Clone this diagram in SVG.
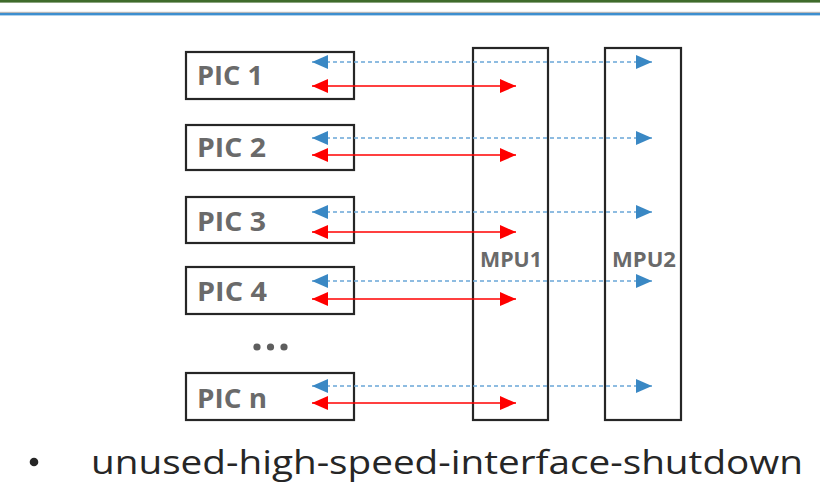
<svg xmlns="http://www.w3.org/2000/svg" width="820" height="491" viewBox="0 0 820 491">
  <style>
    .box { fill: #ffffff; stroke: #262626; stroke-width: 2.2; }
    .pic { font-family: "Open Sans", "Noto Sans", "Liberation Sans", sans-serif; font-weight: bold; font-size: 27px; fill: #6a6a6a; }
    .mpu { font-family: "Open Sans", "Noto Sans", "Liberation Sans", sans-serif; font-weight: bold; font-size: 20.5px; fill: #6a6a6a; }
    .dash { stroke: #6aa6d8; stroke-width: 1.5; stroke-dasharray: 4 3; fill: none; }
    .red { stroke: #ff0000; stroke-width: 1.6; fill: none; }
    .bullet { font-family: "Open Sans", "Noto Sans", "Liberation Sans", sans-serif; font-size: 32px; fill: #262626; }
  </style>
  <defs>
    <marker id="blueHead" markerUnits="userSpaceOnUse" markerWidth="16" markerHeight="14" refX="16" refY="7" orient="auto-start-reverse" viewBox="0 0 16 14">
      <path d="M0,0 L16,7 L0,14 Z" fill="#3a88c4"/>
    </marker>
    <marker id="redHead" markerUnits="userSpaceOnUse" markerWidth="16" markerHeight="14" refX="16" refY="7" orient="auto-start-reverse" viewBox="0 0 16 14">
      <path d="M0,0 L16,7 L0,14 Z" fill="#ff0000"/>
    </marker>
  </defs>

  <!-- header rules -->
  <rect x="0" y="0" width="820" height="2.6" fill="#3f6b2b"/>
  <rect x="0" y="11.8" width="820" height="1.2" fill="#b8b8b8"/>
  <rect x="0" y="13" width="820" height="2.4" fill="#3d8fcf"/>

  <!-- MPU boards -->
  <g id="mpu1">
    <rect class="box" x="473" y="48" width="75" height="372"/>
    <text class="mpu" x="480" y="267" textLength="62" lengthAdjust="spacingAndGlyphs">MPU1</text>
  </g>
  <g id="mpu2">
    <rect class="box" x="605" y="48" width="76" height="372"/>
    <text class="mpu" x="612" y="267" textLength="64" lengthAdjust="spacingAndGlyphs">MPU2</text>
  </g>

  <!-- PIC cards -->
  <g id="pic1">
    <rect class="box" x="186" y="52" width="168" height="47"/>
    <text class="pic" x="197" y="85" textLength="66" lengthAdjust="spacingAndGlyphs">PIC 1</text>
  </g>
  <g id="pic2">
    <rect class="box" x="186" y="125" width="168" height="45"/>
    <text class="pic" x="197" y="157" textLength="69" lengthAdjust="spacingAndGlyphs">PIC 2</text>
  </g>
  <g id="pic3">
    <rect class="box" x="186" y="197" width="168" height="46"/>
    <text class="pic" x="197" y="231" textLength="69" lengthAdjust="spacingAndGlyphs">PIC 3</text>
  </g>
  <g id="pic4">
    <rect class="box" x="186" y="267" width="168" height="47"/>
    <text class="pic" x="197" y="301" textLength="70" lengthAdjust="spacingAndGlyphs">PIC 4</text>
  </g>
  <g id="picn">
    <rect class="box" x="186" y="373" width="168" height="47"/>
    <text class="pic" x="197" y="408" textLength="70" lengthAdjust="spacingAndGlyphs">PIC n</text>
  </g>

  <!-- ellipsis between cards -->
  <g id="ellipsis" fill="#5e5e5e">
    <circle cx="257" cy="347" r="3.6"/>
    <circle cx="270.5" cy="347" r="3.6"/>
    <circle cx="284" cy="347" r="3.6"/>
  </g>

  <!-- links: blue dashed to MPU2, red solid to MPU1 -->
  <g id="connectors">
    <line class="dash" x1="312" y1="62" x2="652" y2="62" marker-start="url(#blueHead)" marker-end="url(#blueHead)"/>
    <line class="red" x1="312" y1="86" x2="516" y2="86" marker-start="url(#redHead)" marker-end="url(#redHead)"/>

    <line class="dash" x1="312" y1="138" x2="652" y2="138" marker-start="url(#blueHead)" marker-end="url(#blueHead)"/>
    <line class="red" x1="312" y1="155" x2="516" y2="155" marker-start="url(#redHead)" marker-end="url(#redHead)"/>

    <line class="dash" x1="312" y1="212" x2="652" y2="212" marker-start="url(#blueHead)" marker-end="url(#blueHead)"/>
    <line class="red" x1="312" y1="232" x2="516" y2="232" marker-start="url(#redHead)" marker-end="url(#redHead)"/>

    <line class="dash" x1="312" y1="281" x2="652" y2="281" marker-start="url(#blueHead)" marker-end="url(#blueHead)"/>
    <line class="red" x1="312" y1="299" x2="516" y2="299" marker-start="url(#redHead)" marker-end="url(#redHead)"/>

    <line class="dash" x1="312" y1="386" x2="652" y2="386" marker-start="url(#blueHead)" marker-end="url(#blueHead)"/>
    <line class="red" x1="312" y1="403" x2="516" y2="403" marker-start="url(#redHead)" marker-end="url(#redHead)"/>
  </g>

  <!-- caption -->
  <circle cx="34" cy="462" r="4.3" fill="#262626"/>
  <text class="bullet" x="91" y="474" textLength="712" lengthAdjust="spacingAndGlyphs">unused-high-speed-interface-shutdown</text>
</svg>
